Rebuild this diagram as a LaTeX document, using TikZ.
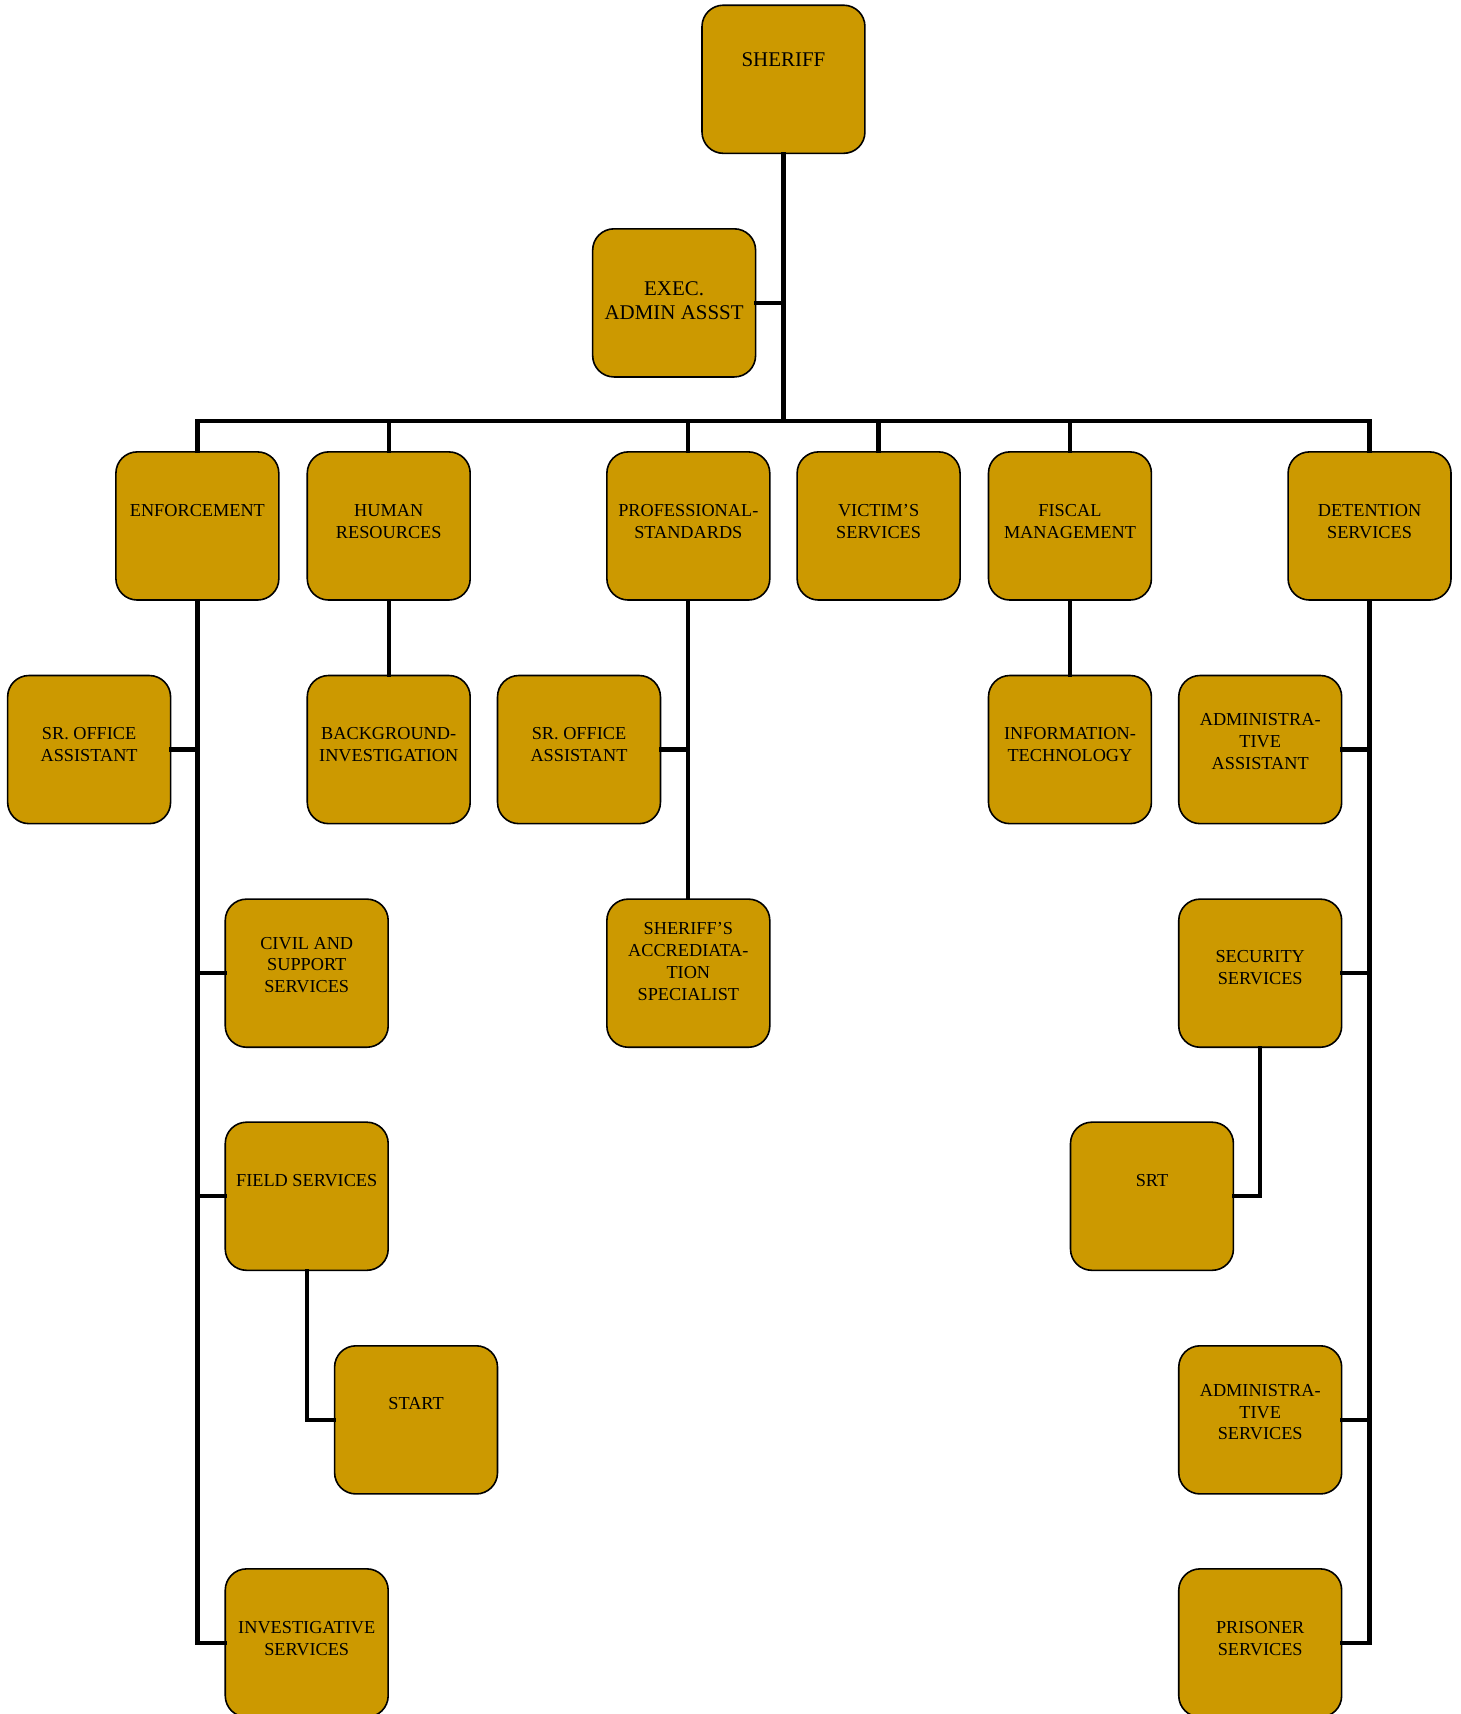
\documentclass[tikz,border=0pt]{standalone}
\usepackage{fontspec}
\setmainfont{Liberation Serif}
\definecolor{gold}{RGB}{204,153,0}
\begin{document}
\begin{tikzpicture}[x=0.8201pt,y=-0.8201pt,
  box/.style={draw=black,line width=1.2pt,fill=gold,rounded corners=16pt,minimum width=122.2pt,minimum height=111.1pt,inner sep=0pt},
  lbl/.style={align=center,font=\fontsize{13.7}{16.4}\selectfont,inner sep=0pt},
  biglbl/.style={align=center,font=\fontsize{15.7}{18}\selectfont,inner sep=0pt},
  conn/.style={line width=3.2pt,line join=miter,line cap=rect}]
\useasboundingbox (0,0) rectangle (1336.1,1567.5);
% boxes
\node[box] (sheriff) at (716.5,72.5) {};
\node[box] (exec) at (616.5,277) {};
\node[box] (enf) at (180.5,481) {};
\node[box] (hr) at (355.5,481) {};
\node[box] (prof) at (629.5,481) {};
\node[box] (vic) at (803.5,481) {};
\node[box] (fis) at (978.5,481) {};
\node[box] (det) at (1252.5,481) {};
\node[box] (sro1) at (81.5,685.5) {};
\node[box] (bg) at (355.5,685.5) {};
\node[box] (sro2) at (529.5,685.5) {};
\node[box] (it) at (978.5,685.5) {};
\node[box] (aa) at (1152.5,685.5) {};
\node[box] (civil) at (280.5,890) {};
\node[box] (accr) at (629.5,890) {};
\node[box] (sec) at (1152.5,890) {};
\node[box] (field) at (280.5,1094) {};
\node[box] (srt) at (1053.5,1094) {};
\node[box] (start) at (380.5,1298.5) {};
\node[box] (as) at (1152.5,1298.5) {};
\node[box] (inv) at (280.5,1502.5) {};
\node[box] (pris) at (1152.5,1502.5) {};
% labels
\node[biglbl] (t-sheriff) at (716.5,55) {SHERIFF};
\node[biglbl] (t-exec) at (616.5,275) {EXEC.\\ADMIN ASSST};
\node[lbl] (t-enf) at (180.5,467) {ENFORCEMENT};
\node[lbl] (t-hr) at (355.5,477) {HUMAN\\RESOURCES};
\node[lbl] (t-prof) at (629.5,477) {PROFESSIONAL-\\STANDARDS};
\node[lbl] (t-vic) at (803.5,477) {VICTIM’S\\SERVICES};
\node[lbl] (t-fis) at (978.5,477) {FISCAL\\MANAGEMENT};
\node[lbl] (t-det) at (1252.5,477) {DETENTION\\SERVICES};
\node[lbl] (t-sro1) at (81.5,681) {SR. OFFICE\\ASSISTANT};
\node[lbl] (t-bg) at (355.5,681) {BACKGROUND-\\INVESTIGATION};
\node[lbl] (t-sro2) at (529.5,681) {SR. OFFICE\\ASSISTANT};
\node[lbl] (t-it) at (978.5,681) {INFORMATION-\\TECHNOLOGY};
\node[lbl] (t-aa) at (1152.5,678) {ADMINISTRA-\\TIVE\\ASSISTANT};
\node[lbl] (t-civil) at (280.5,882.5) {CIVIL AND\\SUPPORT\\SERVICES};
\node[lbl] (t-accr) at (629.5,879.5) {SHERIFF’S\\ACCREDIATA-\\TION\\SPECIALIST};
\node[lbl] (t-sec) at (1152.5,885) {SECURITY\\SERVICES};
\node[lbl] (t-field) at (280.5,1080) {FIELD SERVICES};
\node[lbl] (t-srt) at (1053.5,1080) {SRT};
\node[lbl] (t-start) at (380.5,1284) {START};
\node[lbl] (t-as) at (1152.5,1291.5) {ADMINISTRA-\\TIVE\\SERVICES};
\node[lbl] (t-inv) at (280.5,1498.5) {INVESTIGATIVE\\SERVICES};
\node[lbl] (t-pris) at (1152.5,1498.5) {PRISONER\\SERVICES};
% connectors
\coordinate (bus) at (716.5,385);
\draw[conn] (sheriff.south) -- (bus);
\draw[conn] (exec.east) -- (exec.east -| bus);
\draw[conn] (enf.north) |- (bus) -| (det.north);
\draw[conn] (hr.north) -- (hr.north |- bus);
\draw[conn] (prof.north) -- (prof.north |- bus);
\draw[conn] (vic.north) -- (vic.north |- bus);
\draw[conn] (fis.north) -- (fis.north |- bus);
% enforcement
\draw[conn] (enf.south) |- (inv.west);
\draw[conn] (sro1.east) -- (sro1.east -| enf.south);
\draw[conn] (civil.west) -- (civil.west -| enf.south);
\draw[conn] (field.west) -- (field.west -| enf.south);
\draw[conn] (field.south) |- (start.west);
% HR
\draw[conn] (hr.south) -- (bg.north);
% prof
\draw[conn] (prof.south) -- (accr.north);
\draw[conn] (sro2.east) -- (sro2.east -| prof.south);
% fiscal
\draw[conn] (fis.south) -- (it.north);
% detention
\draw[conn] (det.south) |- (pris.east);
\draw[conn] (aa.east) -- (aa.east -| det.south);
\draw[conn] (sec.east) -- (sec.east -| det.south);
\draw[conn] (as.east) -- (as.east -| det.south);
\draw[conn] (sec.south) |- (srt.east);
\end{tikzpicture}
\end{document}
